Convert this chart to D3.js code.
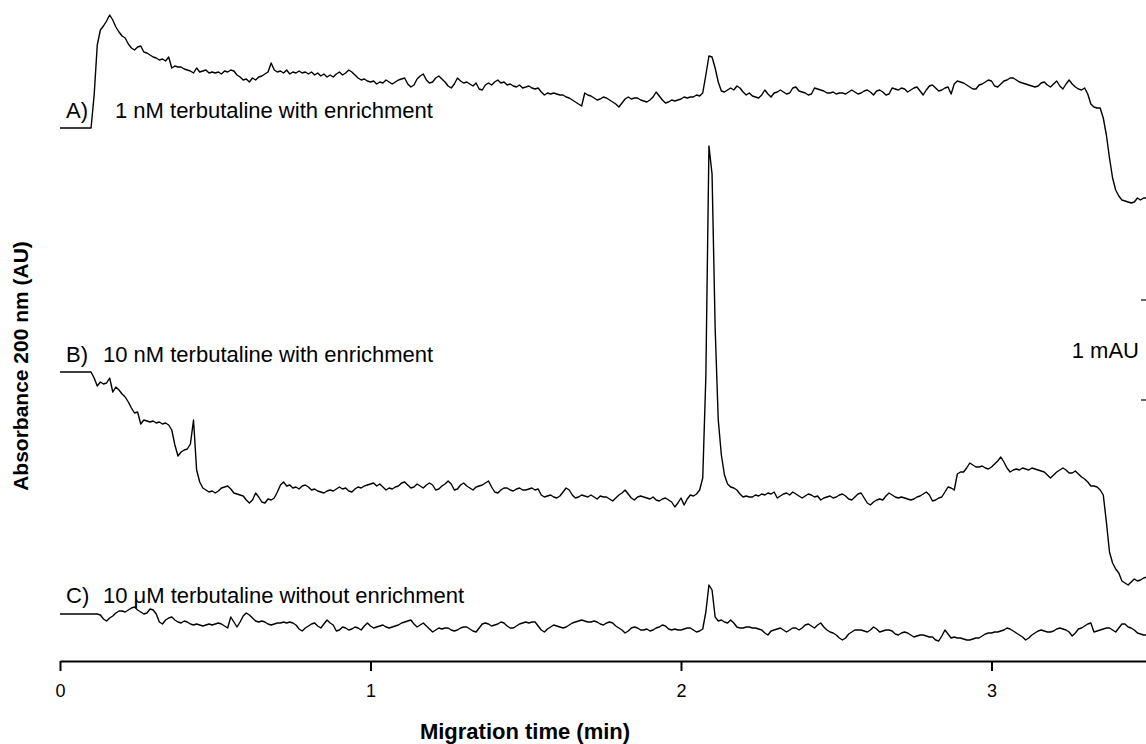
<!DOCTYPE html>
<html>
<head>
  <meta charset="utf-8">
  <style>
    body { margin: 0; background: #fff; }
    svg text { font-family: "Liberation Sans", Arial, Helvetica, sans-serif; fill: #000; }
    .trace { fill: none; stroke: #000; stroke-width: 1.4; stroke-linejoin: round; }
    .label { font-size: 22px; }
    .axis-title { font-size: 22px; font-weight: bold; }
    .xaxis .tick text { font-size: 18px; }
  </style>
  <script src="https://d3js.org/d3.v7.min.js"></script>
</head>
<body>
<svg id="svg" width="1146" height="744"></svg>
<script>
  // detector sampling interval (min); every trace starts at t = 0
  const dt = 0.01;

  const traceLetters = ["A)", "B)", "C)"];
  const traceNames = [
    "1 nM terbutaline with enrichment",
    "10 nM terbutaline with enrichment",
    "10 \u03bcM terbutaline without enrichment"
  ];
  // vertical stacking of the three runs (mAU above the time axis)
  const traceOffsets = [5.33, 2.89, 0.47];
  const xTicks = [0, 1, 2, 3];
  const scaleBar = { bottom: 2.61, size: 1, label: "1 mAU" };

  // absorbance change (mAU) relative to the start of each run
  const traceA = [
    0,0,0,0,0,0,0,0,0,0,
    0,0.33,0.83,0.98,1.02,1.07,1.13,1.08,1.01,0.96,
    0.92,0.90,0.84,0.80,0.78,0.81,0.82,0.76,0.75,0.73,
    0.71,0.70,0.68,0.69,0.67,0.71,0.60,0.62,0.61,0.61,
    0.59,0.58,0.57,0.55,0.60,0.56,0.57,0.58,0.55,0.56,
    0.55,0.56,0.54,0.57,0.56,0.58,0.57,0.53,0.51,0.48,
    0.49,0.46,0.50,0.48,0.51,0.52,0.54,0.56,0.65,0.58,
    0.56,0.57,0.55,0.58,0.54,0.56,0.55,0.57,0.55,0.56,
    0.54,0.56,0.53,0.55,0.52,0.54,0.51,0.53,0.51,0.54,
    0.56,0.53,0.55,0.58,0.56,0.53,0.50,0.48,0.49,0.47,
    0.46,0.47,0.44,0.46,0.45,0.48,0.46,0.44,0.46,0.48,
    0.49,0.50,0.44,0.41,0.43,0.49,0.52,0.54,0.48,0.45,
    0.46,0.50,0.52,0.49,0.46,0.42,0.40,0.44,0.50,0.47,
    0.45,0.46,0.44,0.42,0.45,0.39,0.38,0.43,0.45,0.43,
    0.46,0.48,0.45,0.46,0.43,0.44,0.42,0.41,0.43,0.40,
    0.41,0.42,0.40,0.39,0.40,0.36,0.33,0.35,0.34,0.35,
    0.34,0.33,0.33,0.31,0.30,0.28,0.26,0.24,0.22,0.35,
    0.33,0.32,0.30,0.28,0.29,0.31,0.30,0.28,0.26,0.24,
    0.21,0.25,0.29,0.31,0.29,0.30,0.30,0.28,0.27,0.26,
    0.28,0.31,0.36,0.32,0.28,0.25,0.26,0.28,0.27,0.28,
    0.29,0.31,0.30,0.31,0.31,0.33,0.32,0.35,0.53,0.72,
    0.71,0.60,0.46,0.37,0.36,0.38,0.40,0.38,0.42,0.40,
    0.36,0.33,0.35,0.32,0.31,0.30,0.33,0.38,0.34,0.31,
    0.35,0.36,0.38,0.36,0.34,0.35,0.40,0.41,0.37,0.36,
    0.35,0.33,0.34,0.40,0.39,0.38,0.37,0.35,0.35,0.36,
    0.34,0.35,0.35,0.34,0.36,0.38,0.36,0.34,0.35,0.37,
    0.38,0.36,0.33,0.37,0.38,0.36,0.33,0.34,0.40,0.39,
    0.38,0.40,0.39,0.36,0.38,0.40,0.41,0.37,0.33,0.38,
    0.42,0.43,0.40,0.37,0.38,0.40,0.41,0.34,0.44,0.47,
    0.46,0.45,0.43,0.41,0.39,0.39,0.43,0.44,0.46,0.48,
    0.47,0.42,0.41,0.44,0.47,0.48,0.50,0.50,0.48,0.46,
    0.45,0.44,0.43,0.42,0.41,0.42,0.45,0.46,0.43,0.41,
    0.44,0.47,0.42,0.39,0.44,0.48,0.44,0.41,0.39,0.38,
    0.40,0.34,0.24,0.21,0.20,0.20,0.10,-0.07,-0.30,-0.50,
    -0.62,-0.68,-0.72,-0.73,-0.74,-0.75,-0.74,-0.70,-0.72,-0.70,
    -0.70
  ];

  const traceB = [
    0,0,0,0,0,0,0,0,0,0,
    0,-0.06,-0.14,-0.10,-0.12,-0.11,-0.06,-0.20,-0.15,-0.18,
    -0.22,-0.25,-0.30,-0.36,-0.41,-0.40,-0.52,-0.48,-0.49,-0.50,
    -0.49,-0.51,-0.50,-0.52,-0.51,-0.53,-0.58,-0.73,-0.84,-0.80,
    -0.78,-0.77,-0.72,-0.48,-0.98,-1.10,-1.16,-1.18,-1.20,-1.19,
    -1.21,-1.19,-1.16,-1.15,-1.14,-1.17,-1.21,-1.22,-1.23,-1.24,
    -1.28,-1.31,-1.28,-1.21,-1.25,-1.30,-1.31,-1.27,-1.28,-1.26,
    -1.20,-1.13,-1.10,-1.14,-1.13,-1.16,-1.15,-1.17,-1.14,-1.13,
    -1.15,-1.18,-1.17,-1.19,-1.20,-1.21,-1.19,-1.18,-1.19,-1.17,
    -1.15,-1.17,-1.16,-1.19,-1.20,-1.17,-1.15,-1.16,-1.14,-1.13,
    -1.12,-1.11,-1.14,-1.12,-1.15,-1.18,-1.16,-1.17,-1.15,-1.14,
    -1.11,-1.10,-1.13,-1.16,-1.15,-1.12,-1.14,-1.16,-1.13,-1.11,
    -1.13,-1.18,-1.17,-1.14,-1.12,-1.09,-1.12,-1.18,-1.17,-1.13,
    -1.11,-1.14,-1.16,-1.18,-1.15,-1.14,-1.13,-1.11,-1.09,-1.15,
    -1.20,-1.21,-1.18,-1.16,-1.16,-1.18,-1.19,-1.17,-1.16,-1.18,
    -1.18,-1.17,-1.16,-1.18,-1.17,-1.23,-1.25,-1.24,-1.23,-1.25,
    -1.26,-1.24,-1.20,-1.16,-1.18,-1.23,-1.26,-1.25,-1.23,-1.24,
    -1.25,-1.23,-1.25,-1.27,-1.24,-1.25,-1.25,-1.27,-1.29,-1.26,
    -1.23,-1.21,-1.18,-1.22,-1.26,-1.28,-1.25,-1.24,-1.25,-1.26,
    -1.27,-1.25,-1.28,-1.29,-1.27,-1.26,-1.28,-1.30,-1.35,-1.31,
    -1.26,-1.33,-1.27,-1.23,-1.24,-1.22,-1.18,-1.06,-0.05,2.26,
    1.98,0.44,-0.48,-0.83,-1.03,-1.12,-1.15,-1.16,-1.18,-1.22,
    -1.25,-1.24,-1.25,-1.25,-1.23,-1.24,-1.22,-1.23,-1.21,-1.22,
    -1.20,-1.26,-1.24,-1.22,-1.21,-1.23,-1.20,-1.22,-1.24,-1.26,
    -1.24,-1.22,-1.23,-1.25,-1.24,-1.28,-1.26,-1.25,-1.24,-1.26,
    -1.25,-1.23,-1.22,-1.24,-1.27,-1.28,-1.25,-1.22,-1.21,-1.26,
    -1.31,-1.33,-1.30,-1.28,-1.27,-1.28,-1.24,-1.21,-1.23,-1.25,
    -1.26,-1.25,-1.26,-1.27,-1.28,-1.27,-1.25,-1.24,-1.22,-1.20,
    -1.23,-1.29,-1.28,-1.26,-1.25,-1.20,-1.15,-1.16,-1.18,-1.02,
    -1.00,-1.00,-0.96,-0.91,-0.93,-0.95,-0.95,-0.94,-0.96,-0.97,
    -0.95,-0.92,-0.89,-0.85,-0.90,-0.96,-1.00,-0.98,-0.97,-0.98,
    -0.96,-0.97,-0.98,-0.96,-0.97,-0.98,-0.99,-1.00,-1.03,-1.06,
    -1.03,-1.00,-0.98,-0.96,-0.98,-1.01,-1.01,-0.99,-1.02,-1.05,
    -1.07,-1.10,-1.14,-1.14,-1.15,-1.18,-1.23,-1.50,-1.80,-1.91,
    -1.97,-2.01,-2.09,-2.11,-2.13,-2.10,-2.07,-2.09,-2.08,-2.06,
    -2.05
  ];

  const traceC = [
    0,0,0,0,0,0,0,0,0,0,
    0,0,0,-0.01,-0.05,-0.07,-0.04,-0.02,0.01,0.03,
    0.03,0.02,0.04,0.06,0.07,0.04,0.02,0,0.01,0.05,
    0.04,0,-0.08,-0.10,-0.06,-0.04,-0.03,-0.06,-0.08,-0.09,
    -0.07,-0.08,-0.10,-0.11,-0.10,-0.11,-0.12,-0.11,-0.10,-0.11,
    -0.10,-0.09,-0.10,-0.12,-0.14,-0.03,-0.08,-0.13,-0.08,-0.02,
    0.01,-0.01,-0.04,-0.07,-0.08,-0.07,-0.08,-0.10,-0.11,-0.10,
    -0.09,-0.09,-0.08,-0.09,-0.08,-0.09,-0.11,-0.15,-0.17,-0.14,
    -0.12,-0.10,-0.09,-0.12,-0.14,-0.10,-0.06,-0.09,-0.11,-0.17,
    -0.16,-0.13,-0.14,-0.16,-0.15,-0.13,-0.14,-0.16,-0.12,-0.09,
    -0.12,-0.14,-0.13,-0.12,-0.11,-0.13,-0.14,-0.13,-0.12,-0.11,
    -0.09,-0.08,-0.07,-0.06,-0.10,-0.13,-0.11,-0.09,-0.12,-0.15,
    -0.18,-0.16,-0.14,-0.15,-0.14,-0.14,-0.16,-0.17,-0.16,-0.14,
    -0.13,-0.13,-0.15,-0.17,-0.18,-0.14,-0.10,-0.09,-0.10,-0.12,
    -0.11,-0.10,-0.08,-0.09,-0.12,-0.14,-0.14,-0.12,-0.10,-0.09,
    -0.08,-0.09,-0.08,-0.08,-0.12,-0.16,-0.18,-0.15,-0.13,-0.11,
    -0.12,-0.13,-0.14,-0.13,-0.11,-0.09,-0.08,-0.07,-0.06,-0.07,
    -0.08,-0.08,-0.07,-0.08,-0.10,-0.11,-0.09,-0.08,-0.09,-0.12,
    -0.14,-0.16,-0.19,-0.17,-0.14,-0.13,-0.14,-0.16,-0.16,-0.15,
    -0.17,-0.16,-0.14,-0.13,-0.11,-0.12,-0.15,-0.16,-0.15,-0.16,
    -0.16,-0.15,-0.14,-0.14,-0.16,-0.18,-0.17,-0.15,0.02,0.29,
    0.24,-0.03,-0.07,-0.06,-0.08,-0.09,-0.06,-0.09,-0.13,-0.14,
    -0.14,-0.13,-0.13,-0.14,-0.14,-0.15,-0.16,-0.19,-0.21,-0.17,
    -0.16,-0.15,-0.14,-0.16,-0.18,-0.16,-0.14,-0.14,-0.16,-0.14,
    -0.11,-0.10,-0.12,-0.14,-0.11,-0.09,-0.13,-0.16,-0.18,-0.19,
    -0.21,-0.24,-0.26,-0.24,-0.20,-0.18,-0.16,-0.16,-0.16,-0.17,
    -0.18,-0.16,-0.13,-0.15,-0.18,-0.17,-0.16,-0.16,-0.17,-0.20,
    -0.21,-0.19,-0.18,-0.19,-0.21,-0.23,-0.22,-0.21,-0.21,-0.22,
    -0.23,-0.23,-0.26,-0.27,-0.22,-0.16,-0.20,-0.24,-0.23,-0.24,
    -0.24,-0.25,-0.26,-0.26,-0.25,-0.24,-0.24,-0.22,-0.20,-0.19,
    -0.19,-0.18,-0.18,-0.17,-0.16,-0.14,-0.15,-0.17,-0.19,-0.21,
    -0.23,-0.26,-0.24,-0.21,-0.19,-0.17,-0.16,-0.17,-0.18,-0.18,
    -0.17,-0.15,-0.14,-0.15,-0.16,-0.18,-0.22,-0.19,-0.15,-0.14,
    -0.12,-0.10,-0.09,-0.18,-0.17,-0.16,-0.15,-0.14,-0.14,-0.16,
    -0.18,-0.14,-0.10,-0.10,-0.13,-0.14,-0.16,-0.19,-0.20,-0.21,
    -0.21
  ];

  const traces = [traceA, traceB, traceC];

  const svg = d3.select("#svg");

  const x = d3.scaleLinear().domain([0, 3.5]).range([60, 1146.75]);
  const y = d3.scaleLinear().domain([0, 6.61]).range([661, 0]);

  // the three electropherograms
  traces.forEach(function (vals, k) {
    const line = d3.line()
      .x(function (d, i) { return x(i * dt); })
      .y(function (d) { return y(d + traceOffsets[k]); });
    svg.append("path")
      .attr("class", "trace")
      .attr("d", line(vals));

    const baseY = y(traceOffsets[k]);
    const lab = [-10, -10, -11][k];
    svg.append("text")
      .attr("class", "label")
      .attr("x", 66)
      .attr("y", baseY + lab)
      .text(traceLetters[k]);
    svg.append("text")
      .attr("class", "label")
      .attr("x", k === 0 ? 115 : 103)
      .attr("y", baseY + lab)
      .text(traceNames[k]);
  });

  // time axis
  const xAxis = d3.axisBottom(x)
    .tickValues(xTicks)
    .tickFormat(d3.format("d"))
    .tickSize(10)
    .tickSizeOuter(0)
    .tickPadding(13);

  const gx = svg.append("g")
    .attr("class", "xaxis")
    .attr("transform", "translate(0," + y(0) + ")")
    .call(xAxis);
  gx.attr("font-size", 18).attr("font-family", "'Liberation Sans', Arial, sans-serif");
  gx.select(".domain").attr("stroke-width", 2);
  gx.selectAll(".tick line").attr("stroke-width", 2);
  gx.selectAll(".tick text").attr("font-size", 18);

  svg.append("text")
    .attr("class", "axis-title")
    .attr("x", 525)
    .attr("y", 739)
    .attr("text-anchor", "middle")
    .text("Migration time (min)");

  svg.append("text")
    .attr("class", "axis-title")
    .style("font-size", "21px")
    .attr("transform", "translate(28,366) rotate(-90)")
    .attr("text-anchor", "middle")
    .text("Absorbance 200 nm (AU)");

  // 1 mAU scale bar at the right edge (only its end ticks show)
  const barTop = y(scaleBar.bottom + scaleBar.size);
  const barBottom = y(scaleBar.bottom);
  [barTop, barBottom].forEach(function (yy) {
    svg.append("line")
      .attr("x1", 1141).attr("x2", 1146)
      .attr("y1", yy).attr("y2", yy)
      .attr("stroke", "#000").attr("stroke-width", 1.2);
  });
  svg.append("text")
    .attr("class", "label")
    .attr("x", 1139)
    .attr("y", (barTop + barBottom) / 2 + 8)
    .attr("text-anchor", "end")
    .text(scaleBar.label);
</script>
</body>
</html>
